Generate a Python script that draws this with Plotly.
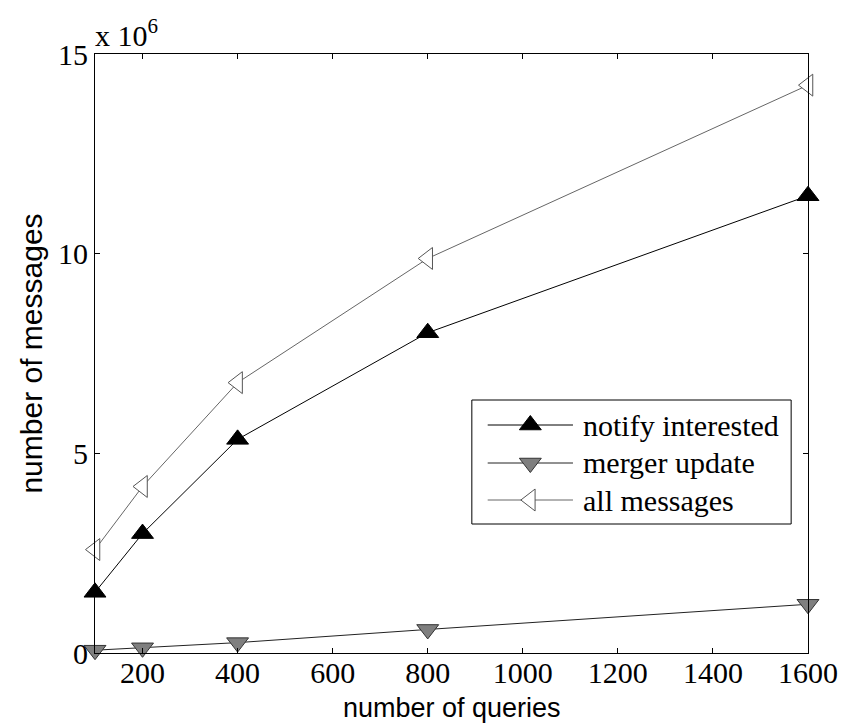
import plotly.graph_objects as go

# Number of queries (x) and message counts in millions (y)
queries = [100, 200, 400, 800, 1600]
notify_interested = [1.52, 2.99, 5.35, 8.02, 11.45]
merger_update = [0.07, 0.13, 0.26, 0.59, 1.22]
all_messages = [2.59, 4.17, 6.77, 9.88, 14.22]

x_ticks = [200, 400, 600, 800, 1000, 1200, 1400, 1600]
y_ticks = [0, 5, 10, 15]

series_names = ["notify interested", "merger update", "all messages"]

W, H = 850, 728
L, R, T, B = 95, 36, 54, 75  # margins in px

SERIF = "Liberation Serif, Times New Roman, serif"
SANS = "Liberation Sans, Arial, sans-serif"

styles = [
    dict(line=dict(color="black", width=1),
         marker=dict(symbol="triangle-up", size=19, color="black",
                     line=dict(color="black", width=1))),
    dict(line=dict(color="#222222", width=1),
         marker=dict(symbol="triangle-down", size=19, color="#7f7f7f",
                     line=dict(color="#333333", width=1))),
    dict(line=dict(color="#666666", width=1),
         marker=dict(symbol="triangle-left", size=19, color="white",
                     line=dict(color="#555555", width=1))),
]

fig = go.Figure()
for name, ys, st in zip(series_names,
                        [notify_interested, merger_update, all_messages],
                        styles):
    fig.add_trace(go.Scatter(x=queries, y=ys, mode="lines+markers", name=name,
                             line=st["line"], marker=st["marker"],
                             cliponaxis=False, showlegend=False))

# Legend drawn in plot-area fraction coordinates (overlay axes span [0,1])
pw, ph = W - L - R, H - T - B
def fx(px):
    return (px - L) / pw
def fy(py):
    return (H - B - py) / ph

box = dict(x0=fx(475), x1=fx(797), y0=fy(524), y1=fy(400))
row_y = [425, 463, 500]
for name, st, ry in zip(series_names, styles, row_y):
    fig.add_trace(go.Scatter(x=[fx(491), fx(577)], y=[fy(ry)] * 2,
                             mode="lines", line=st["line"],
                             xaxis="x2", yaxis="y2", cliponaxis=False,
                             showlegend=False, hoverinfo="skip"))
    fig.add_trace(go.Scatter(x=[fx(534)], y=[fy(ry)], mode="markers",
                             marker=st["marker"], xaxis="x2", yaxis="y2",
                             cliponaxis=False, showlegend=False,
                             hoverinfo="skip"))
    fig.add_annotation(x=fx(585), y=fy(ry), xref="paper", yref="paper",
                       text=name, showarrow=False, xanchor="left",
                       yanchor="middle",
                       font=dict(family=SERIF, size=30, color="black"))

fig.add_shape(type="rect", xref="paper", yref="paper", **box,
              line=dict(color="black", width=1), fillcolor="white",
              layer="below")

# Exponent label above the y axis
fig.add_annotation(x=fx(93), y=fy(54), xref="paper", yref="paper",
                   text="x 10<sup>6</sup>", showarrow=False,
                   xanchor="left", yanchor="bottom", yshift=0,
                   font=dict(family=SERIF, size=30, color="black"))

# x-axis title placed as an annotation below the tick labels
fig.add_annotation(x=0.5, y=fy(708), xref="paper", yref="paper",
                   text="number of queries", showarrow=False,
                   xanchor="center", yanchor="middle",
                   font=dict(family=SANS, size=27, color="black"))

axis_common = dict(showgrid=False, zeroline=False, showline=True,
                   linecolor="black", linewidth=1, mirror="ticks",
                   ticks="inside", ticklen=5, tickcolor="black",
                   tickfont=dict(family=SERIF, size=30, color="black"))

fig.update_layout(
    width=W, height=H,
    margin=dict(l=L, r=R, t=T, b=B),
    plot_bgcolor="white", paper_bgcolor="white",
    xaxis=dict(range=[100, 1600], tickvals=x_ticks, ticklabelstandoff=-7,
               **axis_common),
    yaxis=dict(range=[0, 15], tickvals=y_ticks,
               title=dict(text="number of messages",
                          font=dict(family=SANS, size=30, color="black"),
                          standoff=6),
               **axis_common),
    xaxis2=dict(overlaying="x", range=[0, 1], visible=False),
    yaxis2=dict(overlaying="y", range=[0, 1], visible=False),
    showlegend=False,
)

fig.write_html("out.html")
